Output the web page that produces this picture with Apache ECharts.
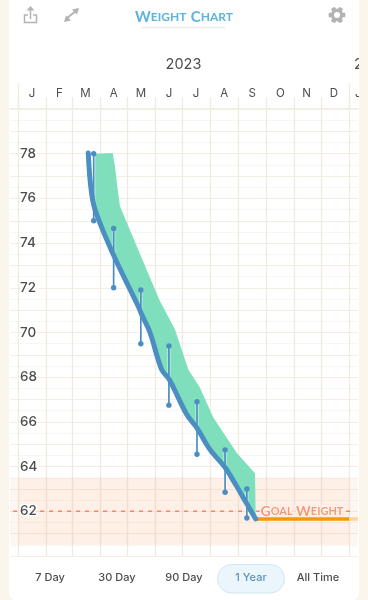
<!DOCTYPE html>
<html>
<head>
<meta charset="utf-8">
<style>
  html, body { margin: 0; padding: 0; background: #fbf6ec; }
  #main { position: absolute; left: 9px; top: 0; width: 350px; height: 600px; background: #fff; border-radius: 0 0 7px 7px; overflow: hidden; }
</style>
<script src="https://cdn.jsdelivr.net/npm/echarts@6/dist/echarts.min.js"></script>
</head>
<body>
<div id="main"></div>
<script>
var myChart = echarts.init(document.getElementById("main"));

// x is day of 2023 (0 = Jan 1)
var monthStarts = [0, 31, 59, 90, 120, 151, 181, 212, 243, 273, 304, 334, 365];
var yearStarts = [0, 365];
var monthCenters = [15, 45, 74, 105, 135, 166, 196, 227, 258, 289, 318, 348];
var monthLabels = ["J", "F", "M", "A", "M", "J", "J", "A", "S", "O", "N", "D"];
var weightTicks = [62, 64, 66, 68, 70, 72, 74, 76, 78];

var trendDays = [77, 79.7, 84.4, 104.6, 132.2, 136, 145.1, 158, 166.4, 185.7, 196.7, 211.4, 228, 239, 252.5, 261.8];
var trendValues = [78.03, 76.54, 75.5, 73.49, 71.17, 70.8, 70, 68.34, 67.9, 66.33, 65.74, 64.76, 63.96, 63.24, 62.3, 61.66];

var bandDays = [84.4, 104, 106.5, 109, 112, 130.5, 155.4, 172.7, 187.4, 200.3, 215, 241.2, 261, 261.8];
var bandTop = [78, 78.03, 77.43, 76.54, 75.65, 73.86, 71.47, 70.13, 68.34, 67.53, 66.2, 64.6, 63.7, 61.66];

var rangeDays = [83, 105, 135, 166, 197, 228, 252];
var rangeHigh = [78, 74.65, 71.9, 69.4, 66.9, 64.75, 63];
var rangeLow = [75, 72, 69.5, 66.75, 64.55, 62.85, 61.7];

var goalWeight = 62;
var goalBandTop = 63.5;
var goalBandBottom = 60.5;
var currentWeight = 61.66;

var xMin = -9.4;
var xMax = 374.7;

var rangeButtons = ["7 Day", "30 Day", "90 Day", "1 Year", "All Time"];
var rangeButtonX = [41, 108, 175, 242, 309];

var grey = "#b3b3b3";
var textColor = "#4d4d4d";
var blue = "#4b8fc2";

function gearPoints(cx, cy) {
  var pts = [];
  for (var i = 0; i < 48; i++) {
    var a = (i / 48) * Math.PI * 2;
    var r = Math.cos(a * 6) > -0.1 ? 8.4 : 6.2;
    pts.push([cx + r * Math.cos(a), cy + r * Math.sin(a)]);
  }
  return pts;
}

function iconLine(x1, y1, x2, y2, width, color) {
  return {
    type: "line",
    shape: { x1: x1, y1: y1, x2: x2, y2: y2 },
    style: { stroke: color || grey, lineWidth: width || 1.5 },
  };
}

var graphics = [
  // share icon
  {
    type: "polyline",
    shape: { points: [[19, 15], [15.5, 15], [15.5, 22.5], [27.5, 22.5], [27.5, 15], [24, 15]] },
    style: { stroke: grey, fill: "none", lineWidth: 1.5 },
  },
  iconLine(21.5, 19, 21.5, 8),
  { type: "polygon", shape: { points: [[21.5, 6], [17.5, 10.5], [25.5, 10.5]] }, style: { fill: grey } },
  // expand icon
  iconLine(58, 18, 67, 11, 2),
  { type: "polygon", shape: { points: [[70, 8], [63, 9.5], [68, 14.5]] }, style: { fill: grey } },
  { type: "polygon", shape: { points: [[55, 22], [62, 20.5], [57, 15.5]] }, style: { fill: grey } },
  // gear
  { type: "polygon", shape: { points: gearPoints(328, 15) }, style: { fill: grey } },
  { type: "circle", shape: { cx: 328, cy: 15, r: 3 }, style: { fill: "#fff" } },
  // title underline
  iconLine(132.5, 27.5, 216, 27.5, 1.5, "#e9edf0"),
  // pill behind the selected range
  {
    type: "rect",
    shape: { x: 208.5, y: 564.5, width: 67, height: 28.5, r: 14 },
    style: { fill: "#ebf5fc", stroke: "#cfe6f6", lineWidth: 1 },
  },
  {
    type: "text",
    x: 174.5,
    y: 65,
    style: { text: "2023", fill: textColor, font: "14.5px Inter", align: "center", verticalAlign: "middle" },
  },
  {
    type: "text",
    x: 345,
    y: 65,
    style: { text: "2024", fill: textColor, font: "14.5px Inter", align: "left", verticalAlign: "middle" },
  },
  {
    type: "text",
    x: 346,
    y: 94,
    style: { text: "J", fill: textColor, font: "11.5px Inter", align: "left", verticalAlign: "middle" },
  },
];

rangeButtons.forEach(function (name, i) {
  graphics.push({
    type: "text",
    x: rangeButtonX[i],
    y: 578,
    style: {
      text: name,
      fill: name === "1 Year" ? "#5b93b8" : textColor,
      font: "500 11px Inter",
      align: "center",
      verticalAlign: "middle",
    },
  });
});

var option = {
  backgroundColor: "transparent",
  animation: false,
  textStyle: { fontFamily: "Inter" },
  title: {
    text: "{b|W}{s|EIGHT} {b|C}{s|HART}",
    left: "center",
    top: 3,
    textStyle: {
      rich: {
        b: { fontFamily: "Lato", fontSize: 15, fontWeight: "bold", color: "#5fb2dc" },
        s: { fontFamily: "Lato", fontSize: 12, fontWeight: "bold", color: "#5fb2dc" },
      },
    },
  },
  graphic: { elements: graphics },
  grid: { left: 1, right: 1, top: 109, bottom: 44 },
  xAxis: [
    {
      type: "value",
      position: "top",
      min: xMin,
      max: xMax,
      axisLine: { show: true, lineStyle: { color: "#f4efe6", width: 2 } },
      axisTick: {
        show: true,
        customValues: monthStarts,
        length: 12,
        lineStyle: { color: "#f0eadf", width: 1.3 },
      },
      axisLabel: {
        customValues: monthCenters,
        margin: 9,
        color: textColor,
        fontFamily: "Inter",
        fontSize: 11.5,
        formatter: function (v) {
          return monthLabels[monthCenters.indexOf(v)];
        },
      },
      splitLine: { show: true, lineStyle: { color: "#f0eadf", width: 1.3 } },
    },
    {
      type: "value",
      position: "top",
      min: xMin,
      max: xMax,
      axisLine: { show: false },
      axisTick: {
        show: true,
        customValues: yearStarts,
        length: 26,
        lineStyle: { color: "#f0eadf", width: 1.3 },
      },
      axisLabel: { show: false },
      splitLine: { show: false },
    },
  ],
  yAxis: [
    {
      type: "value",
      min: 60,
      max: 80,
      interval: 1,
      axisLine: { show: false },
      axisTick: { show: false },
      axisLabel: { show: false },
      splitLine: { show: true, lineStyle: { color: "#f3eee5", width: 1.2 } },
      minorTick: { show: false, splitNumber: 2 },
      minorSplitLine: { show: true, lineStyle: { color: "#f8f6f0", width: 1 } },
    },
    {
      // labels only, sits above the goal line
      type: "value",
      position: "left",
      min: 60,
      max: 80,
      z: 8,
      axisLine: { show: false },
      axisTick: { show: false },
      splitLine: { show: false },
      axisLabel: {
        inside: true,
        customValues: weightTicks,
        margin: 10,
        padding: [2, 0, 0, 0],
        color: textColor,
        fontFamily: "Inter",
        fontSize: 13.5,
        fontWeight: 500,
        textBorderColor: "#fff",
        textBorderWidth: 3,
      },
    },
  ],
  series: [
    {
      name: "Goal",
      type: "line",
      z: 2,
      showSymbol: false,
      silent: true,
      data: [[-6, goalWeight], [368, goalWeight]],
      lineStyle: { color: "#f9855f", width: 1.4, type: [4, 5] },
      markArea: {
        silent: true,
        itemStyle: { color: "rgba(250,190,165,0.14)" },
        data: [
          [{ xAxis: xMin, yAxis: goalBandTop }, { xAxis: xMax, yAxis: goalBandBottom }],
          [{ xAxis: 0, yAxis: goalBandTop }, { xAxis: 365, yAxis: goalBandBottom }],
        ],
      },
    },
    {
      name: "Band",
      type: "custom",
      z: 3,
      silent: true,
      data: [[bandDays[0], bandTop[0]]],
      renderItem: function (params, api) {
        var pts = bandDays.map(function (d, i) {
          return api.coord([d, bandTop[i]]);
        });
        for (var i = trendDays.length - 1; i >= 0; i--) {
          if (trendDays[i] >= bandDays[0]) pts.push(api.coord([trendDays[i], trendValues[i]]));
        }
        return { type: "polygon", shape: { points: pts, smooth: 0 }, style: { fill: "#7fdfbc", stroke: "none" } };
      },
    },
    {
      name: "Goal line",
      type: "line",
      z: 8,
      showSymbol: false,
      silent: true,
      data: [[trendDays[trendDays.length - 1], currentWeight], [365, currentWeight]],
      lineStyle: { color: "#f39a0a", width: 3.5, cap: "butt" },
    },
    {
      name: "Goal line faded",
      type: "line",
      z: 8,
      showSymbol: false,
      silent: true,
      data: [[365, currentWeight], [xMax, currentWeight]],
      lineStyle: { color: "#fad79d", width: 3.5, cap: "butt" },
    },
    {
      name: "Trend",
      type: "line",
      z: 9,
      smooth: 0.35,
      showSymbol: false,
      silent: true,
      data: trendDays.map(function (d, i) {
        return [d, trendValues[i]];
      }),
      lineStyle: { color: blue, width: 5, cap: "round", join: "round" },
    },
    {
      name: "Range",
      type: "custom",
      z: 9,
      silent: true,
      data: rangeDays.map(function (d, i) {
        return [d, rangeHigh[i], rangeLow[i]];
      }),
      renderItem: function (params, api) {
        var hi = api.coord([api.value(0), api.value(1)]);
        var lo = api.coord([api.value(0), api.value(2)]);
        return {
          type: "group",
          children: [
            { type: "line", shape: { x1: hi[0], y1: hi[1], x2: lo[0], y2: lo[1] }, style: { stroke: "rgba(255,255,255,0.45)", lineWidth: 3.4 } },
            { type: "line", shape: { x1: hi[0], y1: hi[1], x2: lo[0], y2: lo[1] }, style: { stroke: blue, lineWidth: 1.7 } },
            { type: "circle", shape: { cx: hi[0], cy: hi[1], r: 2.7 }, style: { fill: blue } },
            { type: "circle", shape: { cx: lo[0], cy: lo[1], r: 2.7 }, style: { fill: blue } },
          ],
        };
      },
    },
    {
      name: "Goal Weight",
      type: "scatter",
      z: 7,
      silent: true,
      symbolSize: 1,
      itemStyle: { color: "rgba(0,0,0,0)" },
      data: [[265.5, goalWeight]],
      label: {
        show: true,
        position: "right",
        distance: 0,
        backgroundColor: "#fdece5",
        padding: [0, 1],
        formatter: "{b|G}{s|OAL} {b|W}{s|EIGHT}",
        rich: {
          b: { fontFamily: "Lato", fontSize: 14, lineHeight: 13, fontWeight: "bold", color: "#f57f58", textBorderColor: "#fff", textBorderWidth: 1 },
          s: { fontFamily: "Lato", fontSize: 11, lineHeight: 13, fontWeight: "bold", color: "#f57f58", textBorderColor: "#fff", textBorderWidth: 1 },
        },
      },
    },
  ],
};
myChart.setOption(option);
</script>
</body>
</html>
